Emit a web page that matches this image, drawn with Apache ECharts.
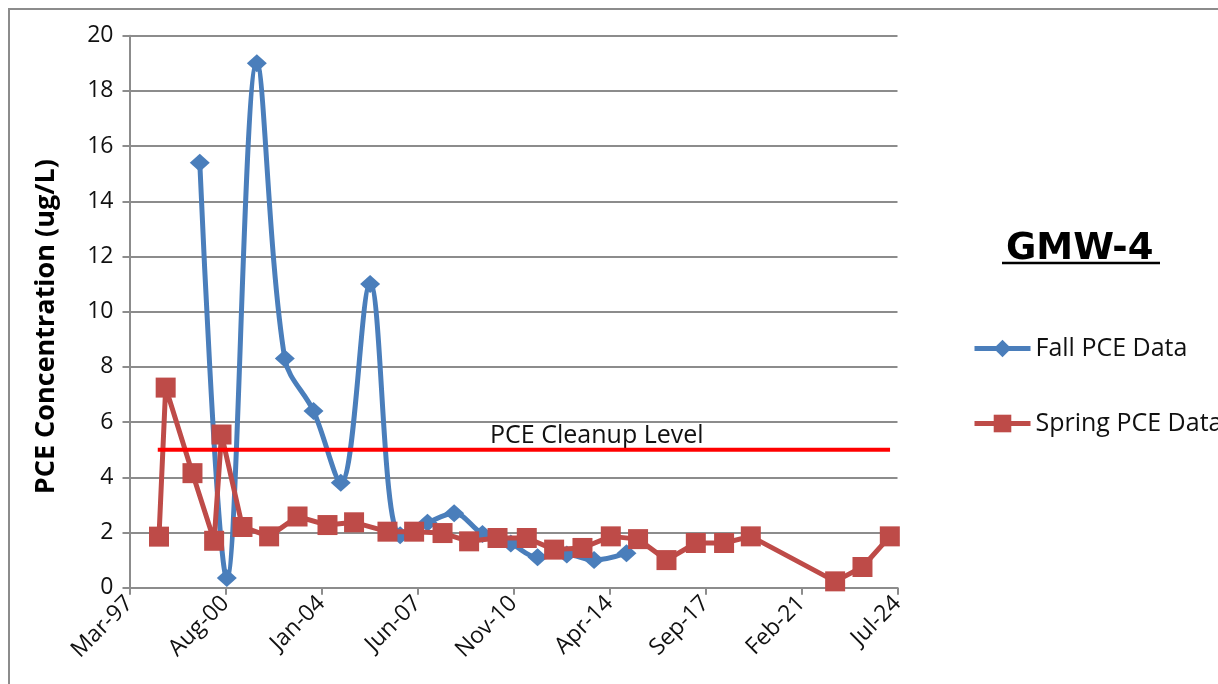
<!DOCTYPE html>
<html>
<head>
<meta charset="utf-8">
<script src="https://cdn.jsdelivr.net/npm/echarts@6/dist/echarts.min.js"></script>
<style>
  html, body { margin: 0; padding: 0; background: #fff; }
  #main { width: 1218px; height: 684px; }
</style>
</head>
<body>
<div id="main"></div>
<script>
// fall samples
var fallDates = ['1999-09-12', '2000-08-29', '2001-09-24', '2002-09-23', '2003-10-02',
                 '2004-09-21', '2005-10-08', '2006-11-03', '2007-10-25', '2008-10-06',
                 '2009-10-10', '2010-10-14', '2011-09-27', '2012-10-12', '2013-10-02',
                 '2014-11-28'];
var fallValues = [15.4, 0.35, 19.0, 8.3, 6.4, 3.8, 11.0, 1.9, 2.35, 2.7,
                  1.95, 1.6, 1.1, 1.2, 1.0, 1.25];

// spring samples
var springDates = ['1998-03-30', '1998-06-25', '1999-06-09', '2000-03-17', '2000-06-21',
                   '2001-03-21', '2002-03-03', '2003-03-08', '2004-04-01', '2005-03-13',
                   '2006-05-22', '2007-05-04', '2008-05-08', '2009-04-19', '2010-04-24',
                   '2011-05-10', '2012-04-30', '2013-05-04', '2014-05-08', '2015-04-28',
                   '2016-05-02', '2017-05-19', '2018-05-22', '2019-05-05', '2022-05-07',
                   '2023-04-28', '2024-04-18'];
var springValues = [1.85, 7.25, 4.15, 1.7, 5.55, 2.2, 1.86, 2.58, 2.27, 2.37,
                    2.03, 2.03, 1.98, 1.68, 1.8, 1.8, 1.38, 1.44, 1.86, 1.76,
                    1.0, 1.62, 1.62, 1.86, 0.23, 0.75, 1.86];

// cleanup level
var cleanupDates = ['1998-03-14', '2024-04-21'];
var cleanupLevel = 5;
var cleanupLabelDate = '2013-11-07';

// axes (excel day numbers, step 1250 days)
var xMin = 35500, xMax = 45500, xStep = 1250;
var yMin = 0, yMax = 20, yStep = 2;

var monthNames = ['Jan','Feb','Mar','Apr','May','Jun','Jul','Aug','Sep','Oct','Nov','Dec'];
var base = Date.UTC(1899, 11, 30);

function toSerial(s) {
  var p = s.split('-');
  return (Date.UTC(+p[0], +p[1] - 1, +p[2]) - base) / 86400000;
}
function serialLabel(v) {
  var d = new Date(base + v * 86400000);
  var yy = String(d.getUTCFullYear() % 100);
  if (yy.length < 2) yy = '0' + yy;
  return monthNames[d.getUTCMonth()] + '-' + yy;
}
function pairs(dates, vals) {
  return dates.map(function (d, i) { return [toSerial(d), vals[i]]; });
}

var font = 'Open Sans';
var gridColor = '#8c8c8c';

var myChart = echarts.init(document.getElementById('main'));

var option = {
  backgroundColor: '#fff',
  animation: false,
  textStyle: { fontFamily: font },
  title: {
    text: 'GMW-4',
    left: 1001,
    top: 226,
    textStyle: { fontSize: 37, fontWeight: 'bold', color: '#000', fontFamily: 'DejaVu Sans' }
  },
  legend: {
    orient: 'vertical',
    left: 972,
    top: 336,
    padding: 0,
    itemWidth: 56,
    itemHeight: 22,
    itemGap: 50,
    data: ['Fall PCE Data', 'Spring PCE Data'],
    lineStyle: { width: 5 },
    textStyle: { fontSize: 25, color: '#111', fontFamily: font }
  },
  graphic: [
    { type: 'rect', shape: { x: 9, y: 9, width: 1400, height: 900 },
      style: { fill: null, stroke: gridColor, lineWidth: 2 }, silent: true },
    { type: 'line', shape: { x1: 1002, y1: 263, x2: 1160, y2: 263 },
      style: { stroke: '#000', lineWidth: 2.5 }, silent: true }
  ],
  grid: { left: 129.5, right: 320.5, top: 35.7, bottom: 96.3 },
  xAxis: {
    type: 'value',
    min: xMin, max: xMax, interval: xStep,
    axisLine: { lineStyle: { color: gridColor, width: 2 } },
    axisTick: { show: true, length: 7, lineStyle: { color: gridColor, width: 2 } },
    splitLine: { show: false },
    axisLabel: {
      rotate: 45, margin: 12, fontSize: 23, color: '#111', fontFamily: font,
      formatter: serialLabel
    }
  },
  yAxis: {
    type: 'value',
    min: yMin, max: yMax, interval: yStep,
    name: 'PCE Concentration (ug/L)',
    nameLocation: 'middle',
    nameGap: 70,
    nameTextStyle: {
      fontSize: 27, fontWeight: 'bold', color: '#000', fontFamily: font,
      padding: [0, 30, 0, 0]
    },
    axisLine: { show: true, lineStyle: { color: gridColor, width: 2 } },
    axisTick: { show: true, length: 7, lineStyle: { color: gridColor, width: 2 } },
    splitLine: { show: true, lineStyle: { color: gridColor, width: 2 } },
    axisLabel: { margin: 16, fontSize: 23, color: '#111', fontFamily: font }
  },
  series: [
    {
      name: 'Fall PCE Data',
      type: 'line',
      data: pairs(fallDates, fallValues),
      smooth: 0.35,
      symbol: 'diamond',
      symbolSize: [20, 18],
      lineStyle: { color: '#4a7ebb', width: 5 },
      itemStyle: { color: '#4a7ebb' },
      z: 3
    },
    {
      name: 'Spring PCE Data',
      type: 'line',
      data: pairs(springDates, springValues),
      symbol: 'rect',
      symbolSize: 20,
      lineStyle: { color: '#be4b48', width: 5 },
      itemStyle: { color: '#be4b48' },
      z: 4
    },
    {
      name: 'PCE Cleanup Level',
      type: 'line',
      data: cleanupDates.map(function (d) { return [toSerial(d), cleanupLevel]; }),
      symbol: 'none',
      lineStyle: { color: '#ff0000', width: 4 },
      z: 5,
      markPoint: {
        symbol: 'rect',
        symbolSize: 0,
        data: [{
          coord: [toSerial(cleanupLabelDate), cleanupLevel],
          label: {
            show: true, position: 'top', distance: 1,
            formatter: 'PCE Cleanup Level',
            fontSize: 25, color: '#111', fontFamily: font
          }
        }]
      }
    }
  ]
};

myChart.setOption(option);
</script>
</body>
</html>
